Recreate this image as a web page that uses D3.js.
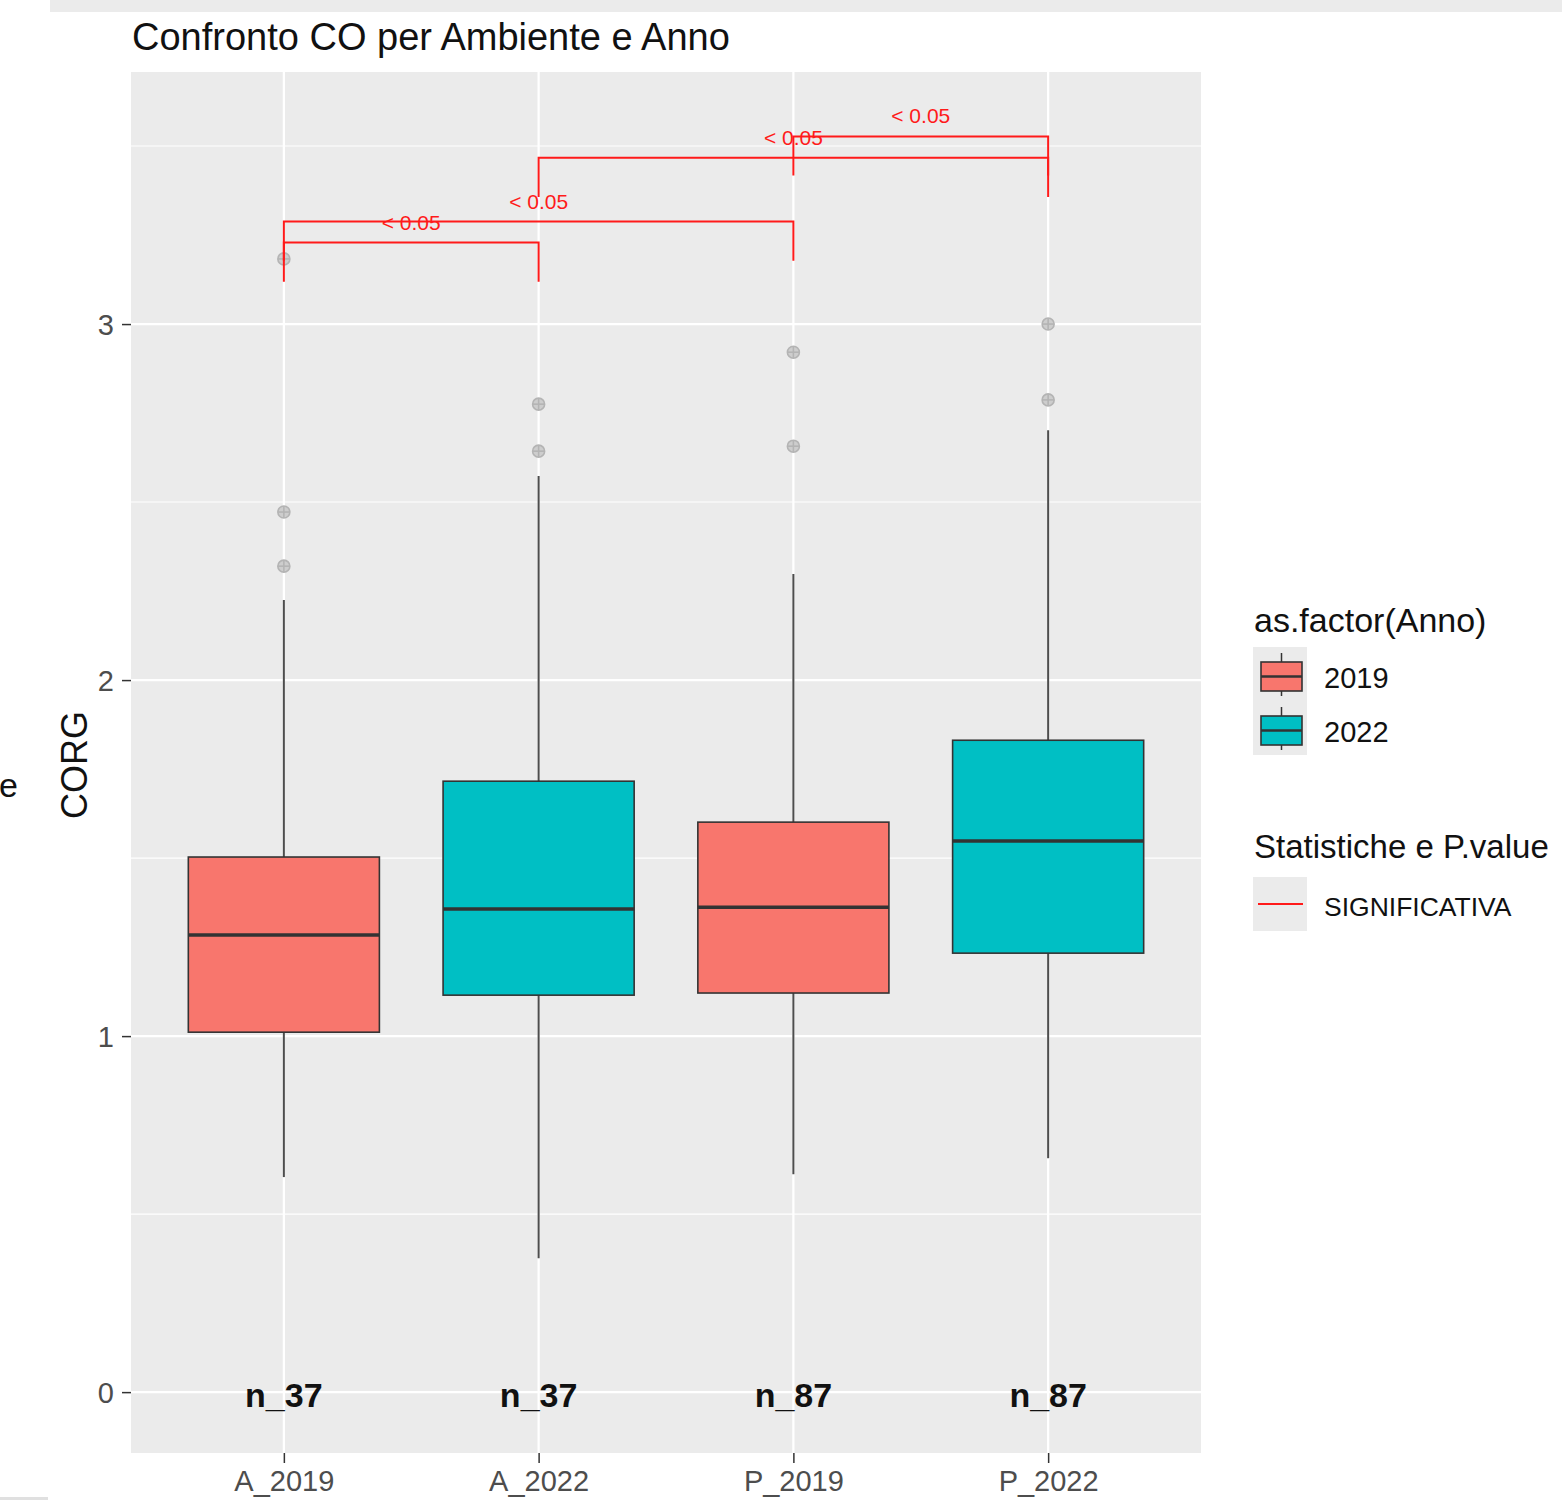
<!DOCTYPE html>
<html>
<head>
<meta charset="utf-8">
<script src="https://cdn.jsdelivr.net/npm/d3@7"></script>
<style>
  body { margin: 0; background: #fff; }
  text { font-family: "Liberation Sans", Arial, sans-serif; }
</style>
</head>
<body>
<div id="chart"></div>
<script>
// box statistics per group
const categories = ["A_2019", "A_2022", "P_2019", "P_2022"];
const years = ["2019", "2022", "2019", "2022"];
const whiskerLow = [0.604, 0.376, 0.612, 0.657];
const q1 = [1.011, 1.115, 1.121, 1.233];
const median = [1.284, 1.357, 1.362, 1.548];
const q3 = [1.503, 1.716, 1.601, 1.831];
const whiskerHigh = [2.225, 2.573, 2.298, 2.702];
const outliers = [[2.320, 2.472, 3.183], [2.643, 2.775], [2.657, 2.921], [2.787, 3.0]];
const counts = ["n_37", "n_37", "n_87", "n_87"];
const yTicks = [0, 1, 2, 3];
const yMinor = [0.5, 1.5, 2.5, 3.5];

// significance brackets
const pairs = [["A_2019", "A_2022"], ["A_2019", "P_2019"], ["A_2022", "P_2022"], ["P_2019", "P_2022"]];
const bracketY = [3.229, 3.288, 3.467, 3.527];
const pLabels = ["< 0.05", "< 0.05", "< 0.05", "< 0.05"];
const tipLength = 0.11;

const yearColors = {"2019": "#F8766D", "2022": "#00BFC4"};

const W = 1562, H = 1500;
const panel = {left: 131, right: 1201, top: 72, bottom: 1453};

const svg = d3.select('#chart').append('svg')
    .attr('width', W).attr('height', H);

// stray grey bars from the screenshot edge
svg.append('rect').attr('x', 50).attr('y', 0).attr('width', W - 50).attr('height', 12).attr('fill', '#ebebeb');
svg.append('rect').attr('x', 0).attr('y', 1497).attr('width', 48).attr('height', 3).attr('fill', '#e0e0e0');

const x = d3.scalePoint().domain(categories).range([panel.left, panel.right]).padding(0.6);
const y = d3.scaleLinear().domain([-0.171, 3.708]).range([panel.bottom, panel.top]);
const boxW = x.step() * 0.75;

// panel background + grid
svg.append('rect')
    .attr('x', panel.left).attr('y', panel.top)
    .attr('width', panel.right - panel.left).attr('height', panel.bottom - panel.top)
    .attr('fill', '#ebebeb');

const grid = svg.append('g');
grid.selectAll('.minor').data(yMinor).join('line')
    .attr('x1', panel.left).attr('x2', panel.right)
    .attr('y1', d => y(d)).attr('y2', d => y(d))
    .attr('stroke', '#fff').attr('stroke-width', 1.1);
grid.selectAll('.majorY').data(yTicks).join('line')
    .attr('x1', panel.left).attr('x2', panel.right)
    .attr('y1', d => y(d)).attr('y2', d => y(d))
    .attr('stroke', '#fff').attr('stroke-width', 2.2);
grid.selectAll('.majorX').data(categories).join('line')
    .attr('x1', d => x(d)).attr('x2', d => x(d))
    .attr('y1', panel.top).attr('y2', panel.bottom)
    .attr('stroke', '#fff').attr('stroke-width', 2.2);

// axes
const yAxis = svg.append('g')
    .attr('transform', `translate(${panel.left},0)`)
    .call(d3.axisLeft(y).tickValues(yTicks).tickSize(9).tickPadding(8).tickFormat(d3.format('d')));
yAxis.select('.domain').remove();
yAxis.selectAll('line').attr('stroke', '#333').attr('stroke-width', 1.5);
yAxis.selectAll('text').attr('fill', '#4d4d4d').attr('font-size', 29)
    .attr('font-family', '"Liberation Sans", Arial, sans-serif').attr('dy', '0.36em');

const xAxis = svg.append('g')
    .attr('transform', `translate(0,${panel.bottom})`)
    .call(d3.axisBottom(x).tickSize(10).tickPadding(7));
xAxis.select('.domain').remove();
xAxis.selectAll('line').attr('stroke', '#333').attr('stroke-width', 1.5);
xAxis.selectAll('text').attr('fill', '#4d4d4d').attr('font-size', 29)
    .attr('font-family', '"Liberation Sans", Arial, sans-serif').attr('dy', '0.74em');

// boxes
const rows = categories.map((c, i) => ({
    cat: c, year: years[i], lo: whiskerLow[i], q1: q1[i], med: median[i],
    q3: q3[i], hi: whiskerHigh[i], out: outliers[i], n: counts[i]
}));

const boxes = svg.append('g').selectAll('g').data(rows).join('g');
boxes.append('line')
    .attr('x1', d => x(d.cat)).attr('x2', d => x(d.cat))
    .attr('y1', d => y(d.hi)).attr('y2', d => y(d.q3))
    .attr('stroke', '#4d4d4d').attr('stroke-width', 2);
boxes.append('line')
    .attr('x1', d => x(d.cat)).attr('x2', d => x(d.cat))
    .attr('y1', d => y(d.q1)).attr('y2', d => y(d.lo))
    .attr('stroke', '#4d4d4d').attr('stroke-width', 2);
boxes.append('rect')
    .attr('x', d => x(d.cat) - boxW / 2).attr('width', boxW)
    .attr('y', d => y(d.q3)).attr('height', d => y(d.q1) - y(d.q3))
    .attr('fill', d => yearColors[d.year])
    .attr('stroke', '#333').attr('stroke-width', 1.6);
boxes.append('line')
    .attr('x1', d => x(d.cat) - boxW / 2).attr('x2', d => x(d.cat) + boxW / 2)
    .attr('y1', d => y(d.med)).attr('y2', d => y(d.med))
    .attr('stroke', '#333').attr('stroke-width', 3.5);

// outliers: light grey circle-plus
boxes.each(function(d) {
    const g = d3.select(this).selectAll('.out').data(d.out).join('g')
        .attr('transform', v => `translate(${x(d.cat)},${y(v)})`)
        .attr('stroke', '#b4b4b4').attr('stroke-width', 1.6);
    g.append('circle').attr('r', 6).attr('fill', '#cdcdcd');
    g.append('line').attr('x1', -6).attr('x2', 6);
    g.append('line').attr('y1', -6).attr('y2', 6);
});

// n labels
svg.append('g').selectAll('text').data(rows).join('text')
    .attr('x', d => x(d.cat)).attr('y', y(0) + 15)
    .attr('text-anchor', 'middle').attr('font-size', 34).attr('font-weight', 'bold')
    .attr('fill', '#111').text(d => d.n);

// significance brackets
const sig = svg.append('g');
pairs.forEach((p, i) => {
    const x1 = x(p[0]), x2 = x(p[1]), yb = y(bracketY[i]), yt = y(bracketY[i] - tipLength);
    sig.append('path')
        .attr('d', `M${x1},${yt}V${yb}H${x2}V${yt}`)
        .attr('fill', 'none').attr('stroke', '#ff1a1a').attr('stroke-width', 2);
    sig.append('text')
        .attr('x', (x1 + x2) / 2).attr('y', yb - 13)
        .attr('text-anchor', 'middle').attr('font-size', 21)
        .attr('fill', '#ff1a1a').text(pLabels[i]);
});

// titles
svg.append('text').attr('x', 132).attr('y', 50)
    .attr('font-size', 38).attr('fill', '#111').text('Confronto CO per Ambiente e Anno');
svg.append('text')
    .attr('transform', 'translate(87,765) rotate(-90)')
    .attr('text-anchor', 'middle').attr('font-size', 36).attr('fill', '#111').text('CORG');
svg.append('text').attr('x', -1).attr('y', 797)
    .attr('font-size', 34).attr('fill', '#111').text('e');

// legends
const leg = svg.append('g');
leg.append('text').attr('x', 1254).attr('y', 632).attr('font-size', 34).attr('fill', '#111').text('as.factor(Anno)');
const legYears = ["2019", "2022"];
legYears.forEach((yr, i) => {
    const top = 647 + i * 54;
    leg.append('rect').attr('x', 1253).attr('y', top).attr('width', 54).attr('height', 54).attr('fill', '#ebebeb');
    leg.append('line').attr('x1', 1281.5).attr('x2', 1281.5).attr('y1', top + 6).attr('y2', top + 49)
        .attr('stroke', '#333').attr('stroke-width', 1.5);
    leg.append('rect').attr('x', 1261).attr('y', top + 15).attr('width', 41).attr('height', 29)
        .attr('fill', yearColors[yr]).attr('stroke', '#333').attr('stroke-width', 1.6);
    leg.append('line').attr('x1', 1261).attr('x2', 1302).attr('y1', top + 29.5).attr('y2', top + 29.5)
        .attr('stroke', '#333').attr('stroke-width', 2.5);
    leg.append('text').attr('x', 1324).attr('y', top + 41).attr('font-size', 29).attr('fill', '#111').text(yr);
});
leg.append('text').attr('x', 1254).attr('y', 858).attr('font-size', 33).attr('fill', '#111').text('Statistiche e P.value');
leg.append('rect').attr('x', 1253).attr('y', 877).attr('width', 54).attr('height', 54).attr('fill', '#ebebeb');
leg.append('line').attr('x1', 1258).attr('x2', 1303).attr('y1', 904).attr('y2', 904)
    .attr('stroke', '#ff1a1a').attr('stroke-width', 2);
leg.append('text').attr('x', 1324).attr('y', 916).attr('font-size', 26.5).attr('fill', '#111').text('SIGNIFICATIVA');
</script>
</body>
</html>
